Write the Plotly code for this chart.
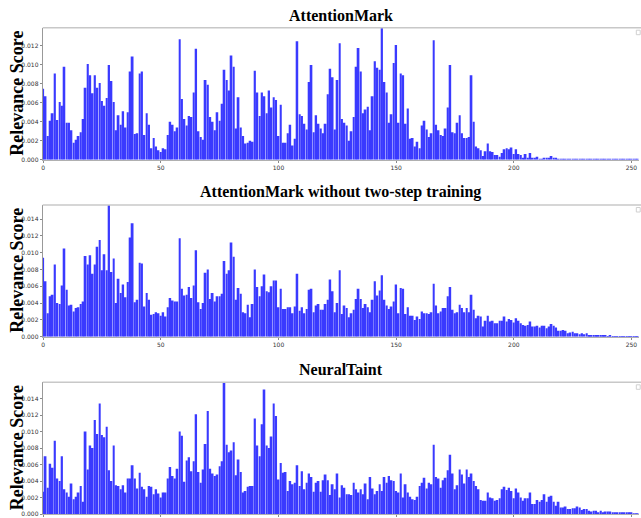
import plotly.graph_objects as go

titles = ["AttentionMark", "AttentionMark without two-step training", "NeuralTaint"]
y_label = "Relevance Score"
x_ticks = [0, 50, 100, 150, 200, 250]

scores_am = [
    0.0075, 0.0067, 0.0025, 0.0041, 0.0049, 0.0091, 0.0042, 0.0061, 0.0057, 0.0098,
    0.0039, 0.0039, 0.0031, 0.0018, 0.0021, 0.0025, 0.0029, 0.0043, 0.0076, 0.0101,
    0.0089, 0.0070, 0.0089, 0.0076, 0.0081, 0.0062, 0.0057, 0.0065, 0.0100, 0.0083,
    0.0061, 0.0031, 0.0047, 0.0037, 0.0051, 0.0034, 0.0050, 0.0093, 0.0109, 0.0027,
    0.0028, 0.0091, 0.0093, 0.0026, 0.0049, 0.0037, 0.0012, 0.0023, 0.0014, 0.0010,
    0.0008, 0.0012, 0.0011, 0.0026, 0.0040, 0.0037, 0.0030, 0.0034, 0.0127, 0.0064,
    0.0043, 0.0036, 0.0046, 0.0045, 0.0071, 0.0117, 0.0030, 0.0024, 0.0021, 0.0084,
    0.0079, 0.0045, 0.0040, 0.0031, 0.0050, 0.0041, 0.0059, 0.0095, 0.0084, 0.0073,
    0.0110, 0.0098, 0.0033, 0.0066, 0.0034, 0.0025, 0.0017, 0.0018, 0.0020, 0.0019,
    0.0094, 0.0071, 0.0046, 0.0071, 0.0067, 0.0049, 0.0073, 0.0055, 0.0066, 0.0063,
    0.0025, 0.0058, 0.0018, 0.0018, 0.0028, 0.0037, 0.0015, 0.0022, 0.0125, 0.0048,
    0.0046, 0.0038, 0.0032, 0.0082, 0.0100, 0.0029, 0.0047, 0.0038, 0.0033, 0.0028,
    0.0038, 0.0069, 0.0096, 0.0087, 0.0032, 0.0084, 0.0123, 0.0043, 0.0039, 0.0036,
    0.0020, 0.0030, 0.0045, 0.0098, 0.0118, 0.0093, 0.0049, 0.0053, 0.0056, 0.0031,
    0.0067, 0.0104, 0.0097, 0.0095, 0.01393, 0.0082, 0.0071, 0.0039, 0.0048, 0.0102,
    0.0121, 0.0039, 0.0091, 0.0089, 0.0038, 0.0054, 0.0022, 0.0023, 0.0014, 0.0019,
    0.0012, 0.0036, 0.0041, 0.0032, 0.0024, 0.0028, 0.0126, 0.0037, 0.0031, 0.0026,
    0.0025, 0.0033, 0.0055, 0.0100, 0.0029, 0.0028, 0.0039, 0.0047, 0.0028, 0.0023,
    0.0023, 0.0024, 0.0089, 0.0040, 0.0014, 0.0012, 0.0010, 0.0004, 0.0009, 0.0017,
    0.0009, 0.0008, 0.0005, 0.0005, 0.0003, 0.0007, 0.0011, 0.0012, 0.0011, 0.0013,
    0.0006, 0.0011, 0.0006, 0.0005, 0.0002, 0.0006, 0.0002, 0.0007, 0.0002, 0.0002,
    0.0003, 0.0001, 0.0001, 0.0002, 0.00015, 0.0002, 0.0004, 0.0002, 0.00015, 0.00007,
    0.00003, 0.00002, 0.00002, 0.00001, 0.00001, 0.00001, 0.00001, 0.00001, 0.00001, 0.00001,
    0.00001, 0.00001, 0.00001, 0.00001, 0.00001, 0.00001, 0.00001, 0.00001, 0.00001, 0.00001,
    0.00001, 0.00001, 0.00001, 0.00001, 0.00001, 0.00001, 0.00001, 0.00001, 0.00001, 0.00001,
    0.00001, 0.00001, 0.00001, 0.00001, 0.00001, 0.00001,
]

scores_am_no2 = [
    0.0094, 0.0066, 0.0028, 0.0048, 0.0050, 0.0086, 0.0040, 0.0039, 0.0061, 0.0105,
    0.0056, 0.0037, 0.0038, 0.0030, 0.0034, 0.0035, 0.0039, 0.0042, 0.0096, 0.0086,
    0.0097, 0.0075, 0.0086, 0.0107, 0.0115, 0.0079, 0.0098, 0.0079, 0.01567, 0.0077,
    0.0093, 0.0040, 0.0069, 0.0052, 0.0062, 0.0047, 0.0065, 0.0118, 0.0135, 0.0041,
    0.0044, 0.0088, 0.0087, 0.0036, 0.0052, 0.0044, 0.0026, 0.0027, 0.0029, 0.0028,
    0.0025, 0.0029, 0.0024, 0.0035, 0.0046, 0.0043, 0.0042, 0.0042, 0.0117, 0.0057,
    0.0049, 0.0050, 0.0059, 0.0046, 0.0061, 0.0103, 0.0041, 0.0033, 0.0040, 0.0076,
    0.0080, 0.0045, 0.0052, 0.0042, 0.0048, 0.0048, 0.0051, 0.0090, 0.0075, 0.0079,
    0.0112, 0.0095, 0.0044, 0.0058, 0.0051, 0.0029, 0.0028, 0.0038, 0.0023, 0.0039,
    0.0080, 0.0059, 0.0048, 0.0060, 0.0074, 0.0054, 0.0053, 0.0060, 0.0067, 0.0067,
    0.0035, 0.0057, 0.0033, 0.0033, 0.0035, 0.0035, 0.0028, 0.0036, 0.0075, 0.0031,
    0.0035, 0.0028, 0.0033, 0.0056, 0.0057, 0.0029, 0.0037, 0.0039, 0.0032, 0.0032,
    0.0039, 0.0044, 0.0068, 0.0054, 0.0029, 0.0040, 0.0079, 0.0027, 0.0037, 0.0034,
    0.0023, 0.0028, 0.0032, 0.0045, 0.0057, 0.0045, 0.0034, 0.0039, 0.0035, 0.0029,
    0.0044, 0.0066, 0.0049, 0.0055, 0.0073, 0.0044, 0.0037, 0.0033, 0.0036, 0.0042,
    0.0062, 0.0028, 0.0058, 0.0057, 0.0027, 0.0035, 0.0025, 0.0025, 0.0020, 0.0024,
    0.0021, 0.0030, 0.0028, 0.0028, 0.0027, 0.0029, 0.0063, 0.0037, 0.0028, 0.0030,
    0.0034, 0.0034, 0.0048, 0.0059, 0.0032, 0.0028, 0.0029, 0.0038, 0.0034, 0.0029,
    0.0034, 0.0029, 0.0050, 0.0032, 0.0022, 0.0025, 0.0024, 0.0012, 0.0019, 0.0025,
    0.0018, 0.0019, 0.0016, 0.0016, 0.0019, 0.0019, 0.0024, 0.0018, 0.0021, 0.0020,
    0.0017, 0.0022, 0.0019, 0.0016, 0.0014, 0.0013, 0.0014, 0.0018, 0.0012, 0.0012,
    0.0013, 0.0011, 0.0013, 0.0013, 0.0010, 0.0012, 0.0015, 0.0013, 0.0011, 0.0007,
    0.0007, 0.0008, 0.0007, 0.0004, 0.0005, 0.0006, 0.0004, 0.0004, 0.0003, 0.0004,
    0.0003, 0.0004, 0.00016, 0.00016, 0.0002, 0.00016, 0.00012, 0.0002, 0.00012, 0.00012,
    0.00008, 0.00012, 0.00008, 0.00008, 0.00008, 0.00005, 0.00005, 0.00005, 0.00003, 0.00002,
    0.00002, 0.00002, 0.00002, 0.00002, 0.00001, 0.00001,
]

scores_nt = [
    0.0027, 0.0070, 0.0032, 0.0061, 0.0056, 0.0089, 0.0043, 0.0040, 0.0070, 0.0030,
    0.0026, 0.0021, 0.0037, 0.0018, 0.0021, 0.0026, 0.0034, 0.0015, 0.0100, 0.0054,
    0.0083, 0.0080, 0.0114, 0.0097, 0.0134, 0.0096, 0.0093, 0.0106, 0.0053, 0.0040,
    0.0083, 0.0035, 0.0034, 0.0030, 0.0035, 0.0026, 0.0043, 0.0043, 0.0059, 0.0043,
    0.0031, 0.0050, 0.0033, 0.0030, 0.0021, 0.0034, 0.0033, 0.0024, 0.0030, 0.0025,
    0.0020, 0.0026, 0.0026, 0.0043, 0.0057, 0.0046, 0.0043, 0.0055, 0.0100, 0.0095,
    0.0039, 0.0065, 0.0069, 0.0052, 0.0064, 0.0121, 0.0051, 0.0038, 0.0054, 0.0085,
    0.0125, 0.0055, 0.0049, 0.0046, 0.0048, 0.0058, 0.0064, 0.01598, 0.0084, 0.0075,
    0.0077, 0.0087, 0.0047, 0.0066, 0.0051, 0.0026, 0.0028, 0.0033, 0.0034, 0.0034,
    0.0116, 0.0083, 0.0070, 0.0109, 0.0151, 0.0083, 0.0080, 0.0094, 0.0134, 0.0119,
    0.0042, 0.0062, 0.0050, 0.0051, 0.0028, 0.0040, 0.0036, 0.0038, 0.0059, 0.0034,
    0.0052, 0.0030, 0.0038, 0.0049, 0.0045, 0.0027, 0.0038, 0.0040, 0.0027, 0.0041,
    0.0048, 0.0041, 0.0023, 0.0036, 0.0030, 0.0049, 0.0020, 0.0035, 0.0032, 0.0024,
    0.0024, 0.0023, 0.0038, 0.0030, 0.0026, 0.0030, 0.0024, 0.0037, 0.0018, 0.0045,
    0.0031, 0.0024, 0.0028, 0.0036, 0.0028, 0.0045, 0.0038, 0.0046, 0.0041, 0.0040,
    0.0028, 0.0026, 0.0049, 0.0020, 0.0036, 0.0026, 0.0021, 0.0018, 0.0017, 0.0021,
    0.0034, 0.0038, 0.0044, 0.0031, 0.0038, 0.0036, 0.0084, 0.0045, 0.0043, 0.0032,
    0.0041, 0.0044, 0.0053, 0.0072, 0.0049, 0.0030, 0.0035, 0.0054, 0.0048, 0.0037,
    0.0054, 0.0045, 0.0049, 0.0040, 0.0034, 0.0030, 0.0017, 0.0016, 0.0016, 0.0026,
    0.0020, 0.0019, 0.0016, 0.0017, 0.0019, 0.0030, 0.0033, 0.0029, 0.0032, 0.0028,
    0.0019, 0.0031, 0.0026, 0.0020, 0.0016, 0.0019, 0.0019, 0.0026, 0.0012, 0.0012,
    0.0017, 0.0015, 0.0017, 0.0024, 0.0015, 0.0021, 0.0022, 0.0015, 0.0010, 0.0015,
    0.0008, 0.0008, 0.0009, 0.0006, 0.0006, 0.0007, 0.0007, 0.0009, 0.0008, 0.0005,
    0.0006, 0.0006, 0.0004, 0.0003, 0.0004, 0.0004, 0.0002, 0.0004, 0.0002, 0.0003,
    0.0003, 0.0003, 0.0002, 0.0002, 0.00016, 0.0002, 0.00016, 0.0001, 0.0001, 0.0001,
    0.0001, 0.00005, 0.00003, 0.00003, 0.00003, 0.00003,
]

series = [scores_am, scores_am_no2, scores_nt]
y_tops = [0.01393, 0.01567, 0.01598]
y_dticks = [0.002, 0.002, 0.002]

W, H = 641, 518
ax_left, ax_right = 42.7, 638.5
# plot-area pixel extents (top, bottom)
rows_px = [(27.7, 159.7), (205.0, 336.7), (382.3, 514.0)]

fig = go.Figure()
layout = dict(
    width=W, height=H,
    margin=dict(l=0, r=0, t=0, b=0),
    paper_bgcolor="white", plot_bgcolor="white",
    showlegend=False, bargap=0.22,
    annotations=[], shapes=[],
)

for k, vals in enumerate(series):
    n = k + 1
    xa = "x" if n == 1 else f"x{n}"
    ya = "y" if n == 1 else f"y{n}"
    fig.add_trace(go.Bar(
        x=list(range(len(vals))), y=vals,
        marker=dict(color="rgb(58,58,255)", line=dict(width=0)),
        xaxis=xa, yaxis=ya,
    ))
    top, bot = rows_px[k]
    xkey = "xaxis" if n == 1 else f"xaxis{n}"
    ykey = "yaxis" if n == 1 else f"yaxis{n}"
    layout[xkey] = dict(
        domain=[ax_left / W, ax_right / W], anchor=ya,
        range=[-0.2, 253.0], tickmode="array", tickvals=x_ticks,
        showgrid=False, zeroline=False,
        showline=True, linecolor="#b0b0b0", linewidth=1,
        ticks="outside", ticklen=2, tickcolor="#888", tickwidth=0.8,
        tickfont=dict(family="DejaVu Sans", size=6, color="#333"),
        automargin=False,
    )
    layout[ykey] = dict(
        domain=[1 - bot / H, 1 - top / H], anchor=xa,
        range=[0, y_tops[k]], dtick=y_dticks[k], tick0=0, tickformat=".3f",
        showgrid=False, zeroline=False,
        showline=True, linecolor="#999", linewidth=1,
        ticks="outside", ticklen=2, tickcolor="#888", tickwidth=0.8,
        tickfont=dict(family="DejaVu Sans", size=6, color="#333"),
        automargin=False,
    )
    # top spine
    layout["shapes"].append(dict(
        type="line", xref="paper", yref="paper",
        x0=ax_left / W, x1=1.0, y0=1 - top / H, y1=1 - top / H,
        line=dict(color="#c8c8c8", width=1.6),
    ))
    # small empty legend box
    layout["shapes"].append(dict(
        type="rect", xref="paper", yref="paper",
        x0=636.3 / W, x1=640.2 / W, y0=1 - (top + 7.0) / H, y1=1 - (top + 2.5) / H,
        line=dict(color="#d0d0d0", width=1), fillcolor="white",
    ))
    # title
    layout["annotations"].append(dict(
        text=f"<b>{titles[k]}</b>", xref="paper", yref="paper",
        x=(ax_left + ax_right) / 2 / W, y=1 - (top - 2.0) / H,
        xanchor="center", yanchor="bottom", showarrow=False,
        font=dict(family="Liberation Serif", size=16, color="black"),
    ))
    # y label
    layout["annotations"].append(dict(
        text=f"<b>{y_label}</b>", xref="paper", yref="paper",
        x=17.0 / W, y=1 - ((top + bot) / 2) / H,
        xanchor="center", yanchor="middle", textangle=-90, showarrow=False,
        font=dict(family="Liberation Serif", size=18, color="black"),
    ))

fig.update_layout(**layout)
fig.write_html(
    "out.html",
    config={"displayModeBar": False},
    post_script="document.body.style.margin='0';document.body.style.padding='0';"
                "document.documentElement.style.overflow='hidden';",
)
